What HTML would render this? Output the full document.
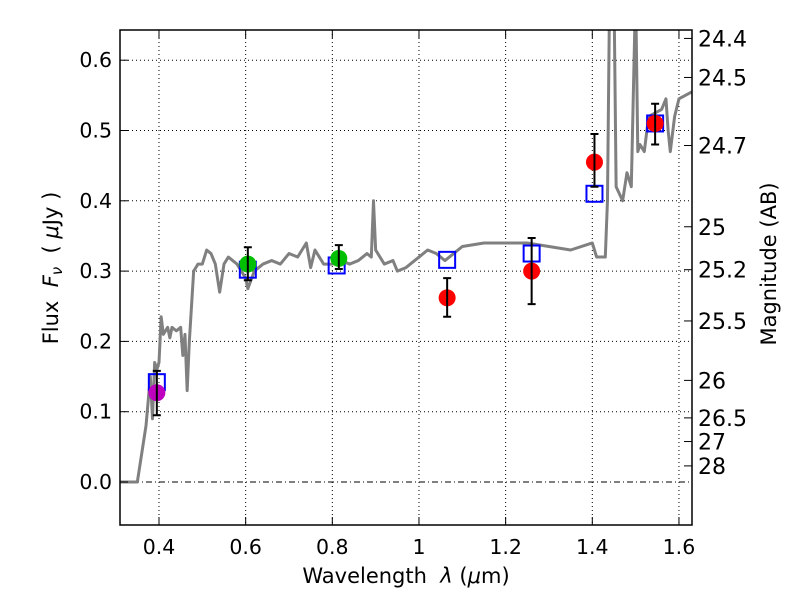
<!DOCTYPE html>
<html><head><meta charset="utf-8"><style>
body{margin:0;background:#fff}
svg text{font-family:"DejaVu Sans","Liberation Sans",sans-serif;fill:#000}
.pre{white-space:pre}
</style></head><body>
<svg id="chart" width="800" height="600" xmlns="http://www.w3.org/2000/svg">
<rect width="800" height="600" fill="#fff"/>
<defs><clipPath id="pc"><rect x="120" y="30" width="572" height="495"/></clipPath></defs>
<g id="grid"></g>
<g id="spec" clip-path="url(#pc)"></g>
<g id="marks"></g>
<rect x="120" y="30" width="572" height="495" fill="none" stroke="#000" stroke-width="1.5"/>
<g id="axes"></g>
<text class="pre" x="406" y="583" font-size="21" text-anchor="middle">Wavelength  <tspan font-style="italic">λ</tspan> (<tspan font-style="italic">μ</tspan>m)</text>
<text class="pre" transform="translate(58,268) rotate(-90)" font-size="21" text-anchor="middle">Flux  <tspan font-style="italic">F</tspan><tspan font-style="italic" font-size="15" dy="4">ν</tspan><tspan dy="-4">  ( </tspan><tspan font-style="italic">μ</tspan>Jy )</text>
<text transform="translate(776,264) rotate(-90)" font-size="21" text-anchor="middle">Magnitude (AB)</text>
</svg>
<script>
const xTicks=[0.4,0.6,0.8,1.0,1.2,1.4,1.6];
const xTickLabels=["0.4","0.6","0.8","1","1.2","1.4","1.6"];
const yTicks=[0.0,0.1,0.2,0.3,0.4,0.5,0.6];
const yTickLabels=["0.0","0.1","0.2","0.3","0.4","0.5","0.6"];
const magTicks=[24.4,24.5,24.7,25,25.2,25.5,26,26.5,27,28];
const magLabels=["24.4","24.5","24.7","25","25.2","25.5","26","26.5","27","28"];
const specWave=[0.31,0.35,0.37,0.38,0.385,0.39,0.395,0.40,0.405,0.41,0.42,0.425,0.43,0.44,0.45,0.455,0.46,0.465,0.47,0.48,0.49,0.50,0.51,0.52,0.53,0.54,0.55,0.56,0.58,0.6,0.605,0.62,0.64,0.66,0.68,0.70,0.72,0.74,0.75,0.76,0.78,0.80,0.82,0.84,0.86,0.88,0.89,0.895,0.90,0.92,0.94,0.95,0.97,1.0,1.02,1.04,1.06,1.08,1.10,1.15,1.2,1.25,1.3,1.35,1.40,1.41,1.43,1.435,1.44,1.45,1.455,1.47,1.48,1.49,1.50,1.505,1.51,1.52,1.53,1.56,1.57,1.575,1.58,1.59,1.60,1.63];
const specFlux=[0.0,0.0,0.08,0.15,0.09,0.17,0.16,0.17,0.235,0.21,0.22,0.205,0.22,0.215,0.22,0.18,0.21,0.13,0.20,0.30,0.31,0.31,0.33,0.325,0.31,0.27,0.31,0.32,0.31,0.29,0.275,0.30,0.31,0.315,0.31,0.325,0.32,0.34,0.305,0.33,0.31,0.31,0.315,0.31,0.315,0.325,0.32,0.40,0.33,0.31,0.315,0.30,0.305,0.32,0.33,0.325,0.315,0.325,0.335,0.34,0.34,0.34,0.335,0.33,0.34,0.32,0.32,0.40,0.7,0.7,0.42,0.40,0.44,0.42,0.7,0.47,0.48,0.47,0.52,0.53,0.545,0.50,0.47,0.52,0.545,0.555];
const modelWave=[0.395,0.605,0.81,1.065,1.26,1.405,1.545];
const modelFlux=[0.142,0.302,0.308,0.316,0.325,0.41,0.51];
const obsWave=[0.395,0.605,0.815,1.065,1.26,1.405,1.545];
const obsFlux=[0.127,0.31,0.318,0.262,0.30,0.455,0.51];
const obsLo=[0.095,0.287,0.303,0.235,0.253,0.42,0.48];
const obsHi=[0.158,0.334,0.337,0.29,0.347,0.495,0.538];
const obsColor=["#bf00bf","#00bf00","#00bf00","#ff0000","#ff0000","#ff0000","#ff0000"];

const X=w=>159+(w-0.4)*433.3;
const Y=f=>482-f*703;
const NS="http://www.w3.org/2000/svg";
function mk(tag,parent,attrs){const e=document.createElementNS(NS,tag);for(const k in attrs)e.setAttribute(k,attrs[k]);parent.appendChild(e);return e;}
const grid=document.getElementById('grid'),axes=document.getElementById('axes');
xTicks.forEach((t,i)=>{
  const x=X(t);
  const g=mk('line',grid,{x1:x,x2:x,y1:30,y2:525,stroke:'#000','stroke-width':1,'stroke-dasharray':'1,3'});
  
  
  mk('line',axes,{x1:x,x2:x,y1:525,y2:517,stroke:'#000'});
  mk('line',axes,{x1:x,x2:x,y1:30,y2:38,stroke:'#000'});
  const tx=mk('text',axes,{x:x,y:554,'font-size':20.5,'text-anchor':'middle'});
  tx.textContent=xTickLabels[i];
  
  
});
yTicks.forEach((t,i)=>{
  const y=Y(t);
  const g=mk('line',grid,{x1:120,x2:692,y1:y,y2:y,stroke:'#000','stroke-width':1,'stroke-dasharray':t===0?'6,3,1,3':'1,3'});
  
  
  mk('line',axes,{x1:120,x2:128,y1:y,y2:y,stroke:'#000'});
  const tx=mk('text',axes,{x:112,y:y+7,'font-size':20.5,'text-anchor':'end'});
  tx.textContent=yTickLabels[i];
  
  
});
magTicks.forEach((m,i)=>{
  const y=Y(Math.pow(10,(23.9-m)/2.5));
  mk('line',axes,{x1:684,x2:692,y1:y,y2:y,stroke:'#000'});
  const tx=mk('text',axes,{x:698,y:y+8,'font-size':22});
  tx.textContent=magLabels[i];
  
  
});
const spec=document.getElementById('spec');
const p=mk('polyline',spec,{points:specWave.map((w,i)=>X(w)+','+Y(specFlux[i])).join(' '),fill:'none',stroke:'#808080','stroke-width':3,'stroke-linejoin':'round'});


const marks=document.getElementById('marks');
modelWave.forEach((w,i)=>{
  const r=mk('rect',marks,{x:X(w)-8,y:Y(modelFlux[i])-8,width:16,height:16,fill:'none',stroke:'#0000ff','stroke-width':2});
  
  
});
obsWave.forEach((w,i)=>{
  const x=X(w);
  const c=mk('circle',marks,{cx:x,cy:Y(obsFlux[i]),r:8.5,fill:obsColor[i]});
  
  
  const e=mk('path',marks,{d:`M${x},${Y(obsLo[i])}V${Y(obsHi[i])}M${x-4},${Y(obsLo[i])}H${x+4}M${x-4},${Y(obsHi[i])}H${x+4}`,stroke:'#000','stroke-width':2,fill:'none'});
  
  
});
</script>
</body></html>
